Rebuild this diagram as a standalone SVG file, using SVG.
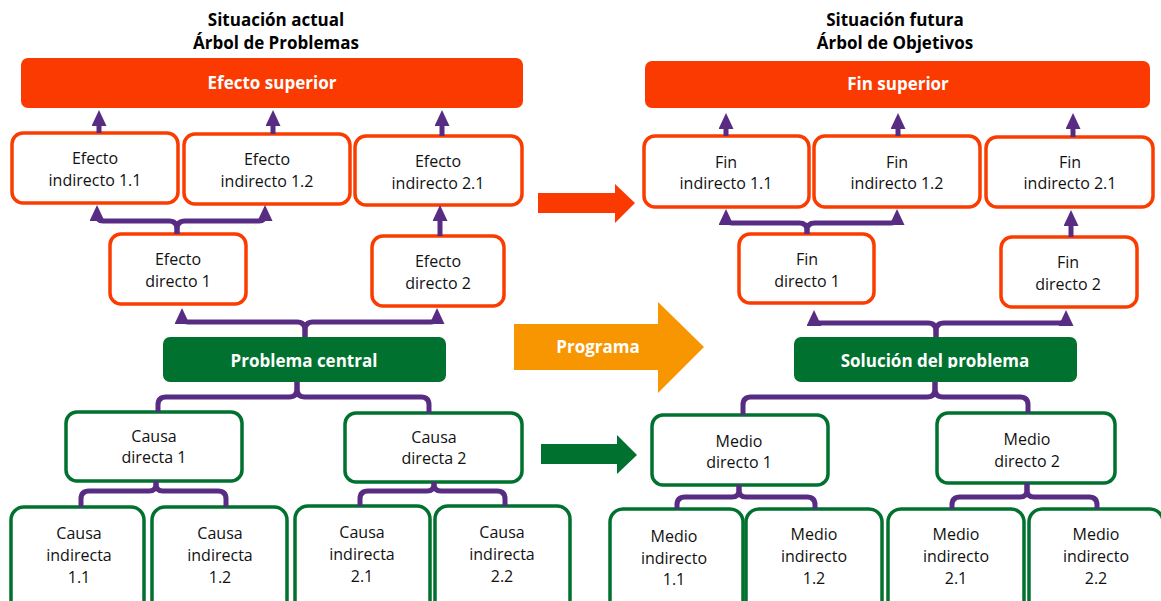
<svg xmlns="http://www.w3.org/2000/svg" width="1161" height="601" viewBox="0 0 1161 601">
  <style>
    .title { font-family: "Open Sans", "Noto Sans", sans-serif; font-weight: 700; font-size: 17px; fill: #000; text-anchor: middle; }
    .box-o { fill: #fff; stroke: #fa3c00; stroke-width: 3.5; }
    .box-g { fill: #fff; stroke: #00712e; stroke-width: 3.5; }
    .solid-o { fill: #fa3a00; }
    .solid-g { fill: #00712e; }
    .lbl { font-family: "Open Sans", "Noto Sans", sans-serif; font-size: 16px; fill: #111; text-anchor: middle; }
    .lbl-b { font-family: "Open Sans", "Noto Sans", sans-serif; font-weight: 700; font-size: 17px; fill: #fff; text-anchor: middle; }
    .link { fill: none; stroke: #582c83; stroke-width: 5; }
    .link-a { fill: none; stroke: #582c83; stroke-width: 5; marker-end: url(#ah); }
  </style>
  <defs>
    <marker id="ah" markerUnits="userSpaceOnUse" viewBox="0 0 16 15" markerWidth="16" markerHeight="15" refX="6" refY="7.5" orient="auto">
      <path d="M0,0 L16,7.5 L0,15 z" fill="#582c83"/>
    </marker>
    <clipPath id="clip-sol">
      <rect x="794" y="337" width="283" height="31"/>
    </clipPath>
  </defs>

  <rect width="1161" height="601" fill="#fff"/>

  <!-- headings -->
  <text class="title" x="276" y="26">Situación actual</text>
  <text class="title" x="276" y="49">Árbol de Problemas</text>
  <text class="title" x="895" y="26">Situación futura</text>
  <text class="title" x="895" y="49">Árbol de Objetivos</text>

  <!-- problem tree -->
  <g id="efecto-superior">
    <rect class="solid-o" x="21" y="58" width="502" height="50" rx="7"/>
    <text class="lbl-b" x="272" y="89">Efecto superior</text>
  </g>
  <g id="efecto-indirecto-1-1">
    <rect class="box-o" x="12" y="133" width="166" height="70" rx="11"/>
    <text class="lbl" x="95" y="164">Efecto</text>
    <text class="lbl" x="95" y="186">indirecto 1.1</text>
  </g>
  <g id="efecto-indirecto-1-2">
    <rect class="box-o" x="184" y="134" width="166" height="70" rx="11"/>
    <text class="lbl" x="267" y="165">Efecto</text>
    <text class="lbl" x="267" y="187">indirecto 1.2</text>
  </g>
  <g id="efecto-indirecto-2-1">
    <rect class="box-o" x="355" y="136" width="167" height="69" rx="11"/>
    <text class="lbl" x="438" y="167">Efecto</text>
    <text class="lbl" x="438" y="189">indirecto 2.1</text>
  </g>
  <g id="efecto-directo-1">
    <rect class="box-o" x="110" y="234" width="136" height="70" rx="11"/>
    <text class="lbl" x="178" y="265">Efecto</text>
    <text class="lbl" x="178" y="287">directo 1</text>
  </g>
  <g id="efecto-directo-2">
    <rect class="box-o" x="372" y="236" width="132" height="70" rx="11"/>
    <text class="lbl" x="438" y="267">Efecto</text>
    <text class="lbl" x="438" y="289">directo 2</text>
  </g>
  <g id="problema-central">
    <rect class="solid-g" x="163" y="337" width="283" height="45" rx="7"/>
    <text class="lbl-b" x="304" y="367">Problema central</text>
  </g>
  <g id="causa-directa-1">
    <rect class="box-g" x="66" y="412" width="176" height="69" rx="11"/>
    <text class="lbl" x="154" y="442">Causa</text>
    <text class="lbl" x="154" y="463">directa 1</text>
  </g>
  <g id="causa-directa-2">
    <rect class="box-g" x="345" y="413" width="177" height="69" rx="11"/>
    <text class="lbl" x="434" y="443">Causa</text>
    <text class="lbl" x="434" y="464">directa 2</text>
  </g>
  <g id="causa-indirecta-1-1">
    <rect class="box-g" x="11" y="507" width="133" height="110" rx="13"/>
    <text class="lbl" x="79" y="539">Causa</text>
    <text class="lbl" x="79" y="561">indirecta</text>
    <text class="lbl" x="79" y="583">1.1</text>
  </g>
  <g id="causa-indirecta-1-2">
    <rect class="box-g" x="152" y="507" width="135" height="110" rx="13"/>
    <text class="lbl" x="220" y="539">Causa</text>
    <text class="lbl" x="220" y="561">indirecta</text>
    <text class="lbl" x="220" y="583">1.2</text>
  </g>
  <g id="causa-indirecta-2-1">
    <rect class="box-g" x="295" y="506" width="135" height="110" rx="13"/>
    <text class="lbl" x="362" y="538">Causa</text>
    <text class="lbl" x="362" y="560">indirecta</text>
    <text class="lbl" x="362" y="582">2.1</text>
  </g>
  <g id="causa-indirecta-2-2">
    <rect class="box-g" x="435" y="506" width="135" height="110" rx="13"/>
    <text class="lbl" x="502" y="538">Causa</text>
    <text class="lbl" x="502" y="560">indirecta</text>
    <text class="lbl" x="502" y="582">2.2</text>
  </g>

  <!-- block arrows between the two trees -->
  <g id="flecha-efectos">
    <polygon fill="#fa3a00" points="538,193 615,193 615,184 635,203 615,223 615,213 538,213"/>
  </g>
  <g id="programa">
    <polygon fill="#f79600" points="514,324 658,324 658,302 704,347 658,393 658,370 514,370"/>
    <text class="lbl-b" x="598" y="353">Programa</text>
  </g>
  <g id="flecha-causas">
    <polygon fill="#00712e" points="541,444 617,444 617,435 637,455 617,474 617,464 541,464"/>
  </g>

  <!-- objective tree -->
  <g id="fin-superior">
    <rect class="solid-o" x="645" y="61" width="505" height="47" rx="7"/>
    <text class="lbl-b" x="898" y="90">Fin superior</text>
  </g>
  <g id="fin-indirecto-1-1">
    <rect class="box-o" x="644" y="136" width="165" height="71" rx="11"/>
    <text class="lbl" x="726" y="168">Fin</text>
    <text class="lbl" x="726" y="189">indirecto 1.1</text>
  </g>
  <g id="fin-indirecto-1-2">
    <rect class="box-o" x="814" y="136" width="166" height="71" rx="11"/>
    <text class="lbl" x="897" y="168">Fin</text>
    <text class="lbl" x="897" y="189">indirecto 1.2</text>
  </g>
  <g id="fin-indirecto-2-1">
    <rect class="box-o" x="986" y="137" width="167" height="70" rx="11"/>
    <text class="lbl" x="1070" y="168">Fin</text>
    <text class="lbl" x="1070" y="189">indirecto 2.1</text>
  </g>
  <g id="fin-directo-1">
    <rect class="box-o" x="739" y="234" width="135" height="69" rx="11"/>
    <text class="lbl" x="807" y="265">Fin</text>
    <text class="lbl" x="807" y="287">directo 1</text>
  </g>
  <g id="fin-directo-2">
    <rect class="box-o" x="1001" y="237" width="136" height="70" rx="11"/>
    <text class="lbl" x="1068" y="268">Fin</text>
    <text class="lbl" x="1068" y="290">directo 2</text>
  </g>
  <g id="solucion">
    <rect class="solid-g" x="794" y="337" width="283" height="45" rx="7"/>
    <text class="lbl-b" x="935" y="367" clip-path="url(#clip-sol)">Solución del problema</text>
  </g>
  <g id="medio-directo-1">
    <rect class="box-g" x="652" y="415" width="176" height="70" rx="11"/>
    <text class="lbl" x="739" y="447">Medio</text>
    <text class="lbl" x="739" y="468">directo 1</text>
  </g>
  <g id="medio-directo-2">
    <rect class="box-g" x="937" y="413" width="178" height="70" rx="11"/>
    <text class="lbl" x="1027" y="445">Medio</text>
    <text class="lbl" x="1027" y="467">directo 2</text>
  </g>
  <g id="medio-indirecto-1-1">
    <rect class="box-g" x="610" y="509" width="133" height="110" rx="13"/>
    <text class="lbl" x="674" y="542">Medio</text>
    <text class="lbl" x="674" y="564">indirecto</text>
    <text class="lbl" x="674" y="585">1.1</text>
  </g>
  <g id="medio-indirecto-1-2">
    <rect class="box-g" x="746" y="509" width="136" height="110" rx="13"/>
    <text class="lbl" x="814" y="540">Medio</text>
    <text class="lbl" x="814" y="562">indirecto</text>
    <text class="lbl" x="814" y="584">1.2</text>
  </g>
  <g id="medio-indirecto-2-1">
    <rect class="box-g" x="888" y="509" width="136" height="110" rx="13"/>
    <text class="lbl" x="956" y="540">Medio</text>
    <text class="lbl" x="956" y="562">indirecto</text>
    <text class="lbl" x="956" y="584">2.1</text>
  </g>
  <g id="medio-indirecto-2-2">
    <rect class="box-g" x="1029" y="509" width="134" height="110" rx="13"/>
    <text class="lbl" x="1096" y="540">Medio</text>
    <text class="lbl" x="1096" y="562">indirecto</text>
    <text class="lbl" x="1096" y="584">2.2</text>
  </g>

  <!-- connectors -->
  <g id="connectors">
    <!-- problem tree: effects point upward -->
    <path class="link-a" d="M99,133 V120"/>
    <path class="link-a" d="M273,134 V120"/>
    <path class="link-a" d="M442,136 V120"/>
    <path class="link-a" d="M177,234 V229 Q177,221 169,221 H103 Q97,221 97,215"/>
    <path class="link-a" d="M177,234 V229 Q177,221 185,221 H259 Q265,221 265,215"/>
    <path class="link-a" d="M440,236 V215"/>
    <path class="link-a" d="M305,337 V330 Q305,322 297,322 H188 Q182,322 182,318"/>
    <path class="link-a" d="M305,337 V330 Q305,322 313,322 H431 Q437,322 437,318"/>
    <!-- problem tree: causes hang below -->
    <path class="link" d="M297,382 V389 Q297,397 289,397 H166 Q158,397 158,405 V412"/>
    <path class="link" d="M297,382 V389 Q297,397 305,397 H421 Q429,397 429,405 V413"/>
    <path class="link" d="M156,481 V484 Q156,491 149,491 H89 Q81,491 81,499 V507"/>
    <path class="link" d="M156,481 V484 Q156,491 163,491 H218 Q226,491 226,499 V507"/>
    <path class="link" d="M434,482 V484 Q434,491 427,491 H368 Q360,491 360,499 V506"/>
    <path class="link" d="M434,482 V484 Q434,491 441,491 H497 Q505,491 505,499 V506"/>

    <!-- objective tree: ends point upward -->
    <path class="link-a" d="M726,136 V123"/>
    <path class="link-a" d="M898,136 V123"/>
    <path class="link-a" d="M1073,137 V123"/>
    <path class="link-a" d="M807,234 V230 Q807,223 799,223 H732 Q726,223 726,219"/>
    <path class="link-a" d="M807,234 V230 Q807,223 815,223 H891 Q897,223 897,219"/>
    <path class="link-a" d="M1071,237 V220"/>
    <path class="link-a" d="M936,337 V331 Q936,323 928,323 H820 Q814,323 814,320"/>
    <path class="link-a" d="M936,337 V331 Q936,323 944,323 H1060 Q1066,323 1066,320"/>
    <!-- objective tree: means hang below -->
    <path class="link" d="M935,382 V389 Q935,397 927,397 H751 Q743,397 743,405 V415"/>
    <path class="link" d="M935,382 V389 Q935,397 943,397 H1020 Q1028,397 1028,405 V413"/>
    <path class="link" d="M739,485 V490 Q739,497 732,497 H685 Q677,497 677,505 V509"/>
    <path class="link" d="M739,485 V490 Q739,497 746,497 H807 Q815,497 815,505 V509"/>
    <path class="link" d="M1027,483 V490 Q1027,497 1020,497 H960 Q952,497 952,505 V509"/>
    <path class="link" d="M1027,483 V490 Q1027,497 1034,497 H1089 Q1097,497 1097,505 V509"/>
  </g>
</svg>
